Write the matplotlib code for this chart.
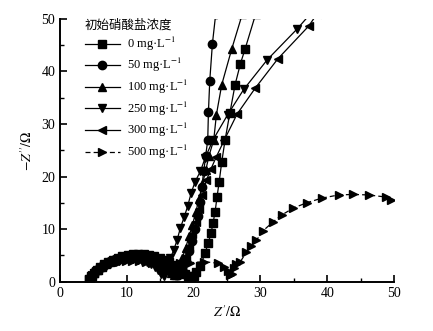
import matplotlib
matplotlib.use('Agg')
import matplotlib.pyplot as plt
from matplotlib.ticker import MultipleLocator

plt.rcParams['font.family'] = ['Liberation Serif', 'Noto Sans CJK SC']
plt.rcParams['mathtext.fontset'] = 'stix'

# 0 mg/L (squares)
z0_re = [4.3, 4.6, 5.0, 5.5, 6.0, 6.6, 7.2, 7.9, 8.6, 9.3, 10.1, 10.9, 11.7, 12.5, 13.3,
         14.1, 14.9, 15.6, 16.3, 17.0, 17.6, 18.2, 18.7, 19.2, 19.6, 20.0,
         20.4, 21.0, 21.7, 22.2, 22.6, 22.9, 23.2, 23.5, 23.8, 24.2, 24.7, 25.4, 26.2, 27.0, 27.7, 29.3]
z0_im = [0.6, 1.1, 1.7, 2.3, 2.8, 3.3, 3.8, 4.2, 4.6, 4.9, 5.1, 5.2, 5.3, 5.2, 5.1,
         4.9, 4.6, 4.2, 3.7, 3.1, 2.5, 1.9, 1.4, 1.0, 0.9, 1.0,
         1.8, 2.9, 5.5, 7.4, 9.3, 11.2, 13.3, 16.2, 18.9, 22.8, 27.0, 32.0, 37.5, 41.5, 44.3, 51.0]

# 50 mg/L (circles)
z50_re = [4.4, 4.7, 5.1, 5.6, 6.2, 6.8, 7.5, 8.2, 9.0, 9.8, 10.6, 11.4, 12.2, 13.0, 13.8,
          14.5, 15.2, 15.8, 16.4, 16.9, 17.3, 17.6,
          18.2, 18.8, 19.3, 19.8, 20.2, 20.6, 20.9, 21.2, 21.5, 21.8, 22.1, 22.2, 22.4, 22.8, 23.3]
z50_im = [0.7, 1.2, 1.8, 2.4, 2.9, 3.4, 3.9, 4.3, 4.6, 4.9, 5.0, 5.1, 5.0, 4.8, 4.5,
          4.1, 3.6, 3.0, 2.4, 1.8, 1.3, 1.2,
          2.5, 4.0, 5.8, 7.8, 10.0, 12.5, 15.2, 18.0, 21.0, 24.0, 27.0, 32.2, 38.2, 45.3, 51.0]

# 100 mg/L (up triangles)
z100_re = [4.4, 4.7, 5.1, 5.6, 6.2, 6.8, 7.5, 8.2, 9.0, 9.8, 10.6, 11.4, 12.2, 13.0, 13.7,
           14.4, 15.0, 15.6, 16.1, 16.6, 17.0,
           17.3, 17.8, 18.3, 18.8, 19.3, 19.8, 20.3, 20.8, 21.3, 21.8, 22.3, 23.0, 23.4, 24.2, 25.7, 27.3]
z100_im = [0.6, 1.1, 1.7, 2.3, 2.8, 3.3, 3.8, 4.2, 4.5, 4.7, 4.8, 4.8, 4.7, 4.5, 4.2,
           3.8, 3.4, 2.9, 2.3, 1.7, 1.3,
           1.3, 2.8, 4.5, 6.5, 8.6, 10.8, 13.2, 15.8, 18.5, 21.2, 24.0, 27.0, 31.8, 37.5, 44.3, 51.0]

# 250 mg/L (down triangles)
z250_re = [4.5, 4.8, 5.2, 5.7, 6.2, 6.8, 7.4, 8.1, 8.8, 9.5, 10.2, 10.9, 11.6, 12.3, 13.0,
           13.6, 14.2, 14.7, 15.1, 15.5,
           16.0, 16.5, 17.0, 17.5, 18.0, 18.6, 19.1, 19.6, 20.2, 21.0, 21.7, 22.9, 25.1, 27.5, 31.0, 35.5, 37.5]
z250_im = [0.6, 1.0, 1.6, 2.1, 2.6, 3.0, 3.4, 3.8, 4.0, 4.2, 4.3, 4.3, 4.2, 4.0, 3.7,
           3.3, 2.8, 2.2, 1.5, 1.0,
           2.5, 4.5, 6.0, 7.9, 10.2, 12.4, 14.4, 16.8, 19.0, 21.0, 23.5, 27.0, 31.8, 36.6, 42.2, 48.1, 51.0]

# 300 mg/L (left triangles)
z300_re = [4.4, 4.7, 5.1, 5.6, 6.2, 6.8, 7.5, 8.2, 9.0, 9.8, 10.6, 11.4, 12.2, 13.0, 13.8,
           14.5, 15.2, 15.8, 16.4, 16.9, 17.4,
           17.8, 18.3, 18.8, 19.3, 19.8, 20.3, 20.8, 21.3, 21.9, 22.6, 23.4, 24.6, 26.5, 29.2, 32.6, 37.2, 38.5]
z300_im = [0.7, 1.1, 1.7, 2.3, 2.8, 3.3, 3.7, 4.1, 4.4, 4.6, 4.7, 4.7, 4.6, 4.4, 4.1,
           3.7, 3.2, 2.7, 2.1, 1.6, 1.2,
           1.5, 3.0, 4.8, 6.8, 9.0, 11.3, 13.8, 16.5, 19.3, 21.5, 23.8, 27.0, 31.9, 36.8, 42.4, 48.6, 51.0]

# 500 mg/L (right triangles, dashed)
z500_re = [4.3, 4.8, 5.4, 6.1, 6.9, 7.8, 8.8, 9.8, 10.8, 11.8, 12.8, 13.8, 14.8, 15.8, 16.8,
           18.0, 19.5, 21.6, 23.7, 24.6, 25.2, 25.5, 25.8, 26.0, 26.4, 27.0, 27.9, 28.6, 29.4,
           30.4, 31.9, 33.2, 34.9, 36.9, 39.2, 41.7, 43.9, 46.2, 48.8, 49.6]
z500_im = [0.6, 1.3, 2.0, 2.6, 3.1, 3.5, 3.8, 4.0, 4.0, 3.9, 3.8, 3.6, 3.5, 3.4, 3.4,
           3.5, 3.6, 3.8, 3.5, 2.8, 2.0, 1.3, 1.5, 2.6, 3.3, 3.8, 5.7, 6.8, 7.9,
           9.7, 11.4, 12.7, 14.0, 15.0, 15.9, 16.5, 16.6, 16.5, 16.1, 15.6]

series = [
    (z0_re, z0_im, 's', '-', '0 mg·L$^{-1}$'),
    (z50_re, z50_im, 'o', '-', '50 mg·L$^{-1}$'),
    (z100_re, z100_im, '^', '-', '100 mg·L$^{-1}$'),
    (z250_re, z250_im, 'v', '-', '250 mg·L$^{-1}$'),
    (z300_re, z300_im, '<', '-', '300 mg·L$^{-1}$'),
    (z500_re, z500_im, '>', (0, (4, 2.5)), '500 mg·L$^{-1}$'),
]

fig = plt.figure(figsize=(4.33, 3.31), dpi=100)
ax = fig.add_axes([0.139, 0.149, 0.771, 0.794])

for x, y, m, ls, lab in series:
    ax.plot(x, y, color='black', linestyle=ls, linewidth=0.9, marker=m,
            markersize=6, label=lab, clip_on=True)

ax.set_xlim(0, 50)
ax.set_ylim(0, 50)
ax.xaxis.set_major_locator(MultipleLocator(10))
ax.xaxis.set_minor_locator(MultipleLocator(5))
ax.yaxis.set_major_locator(MultipleLocator(10))
ax.yaxis.set_minor_locator(MultipleLocator(5))
ax.spines['top'].set_visible(False)
ax.spines['right'].set_visible(False)
for s in ['left', 'bottom']:
    ax.spines[s].set_linewidth(1.4)
ax.tick_params(which='major', direction='in', length=5, width=1.2, labelsize=10)
ax.tick_params(which='minor', direction='in', length=3, width=1.0)

ax.set_xlabel(r'$Z^{\prime}/\mathrm{\Omega}$', fontsize=10, labelpad=3)
ax.set_ylabel(r'$-Z^{\prime\prime}/\mathrm{\Omega}$', fontsize=10, labelpad=5)

leg = ax.legend(loc='upper left', bbox_to_anchor=(0.04, 1.045), frameon=False,
                fontsize=9, title='初始硝酸盐浓度', handlelength=2.8,
                labelspacing=0.28, handletextpad=0.6, alignment='left',
                title_fontproperties={'family': 'Noto Sans CJK SC', 'size': 9})

fig.savefig('out.png', dpi=100)
